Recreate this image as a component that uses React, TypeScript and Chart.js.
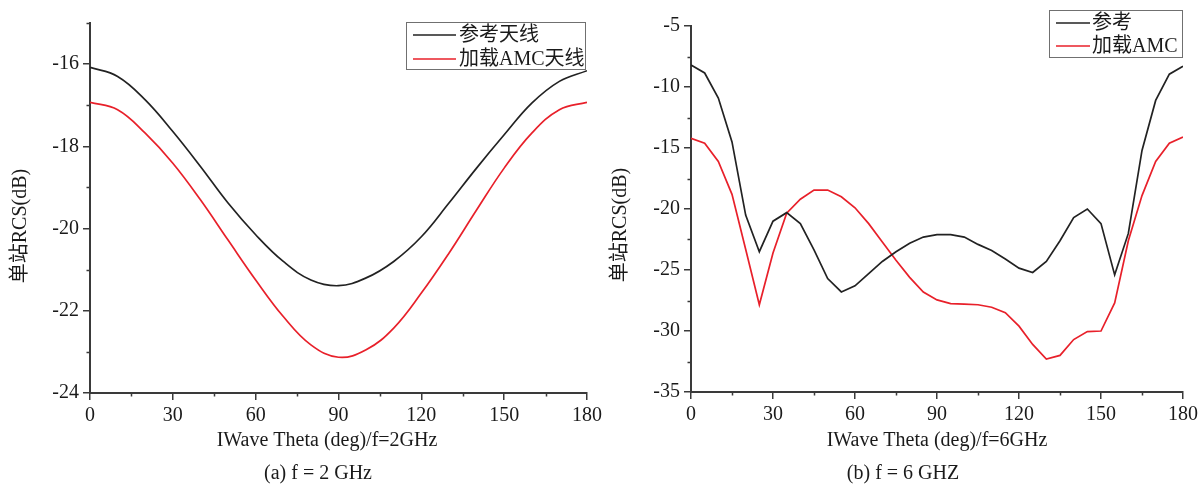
import React, { useEffect, useRef } from "react";
import { Chart, registerables } from "chart.js";

Chart.register(...registerables);

// ---------- data ----------
const ANGLES_2G = [0, 10, 20, 30, 40, 50, 60, 70, 80, 90, 100, 110, 120, 130, 140, 150, 160, 170, 180];
const REF_2G = [-16.08, -16.3, -16.87, -17.64, -18.49, -19.38, -20.15, -20.8, -21.25, -21.39, -21.2, -20.8, -20.2, -19.38, -18.53, -17.72, -16.95, -16.42, -16.16];
const AMC_2G = [-16.93, -17.11, -17.68, -18.41, -19.3, -20.28, -21.25, -22.14, -22.83, -23.13, -22.95, -22.42, -21.57, -20.6, -19.55, -18.53, -17.68, -17.11, -16.93];

const ANGLES_6G = [0, 5, 10, 15, 20, 25, 30, 35, 40, 45, 50, 55, 60, 65, 70, 75, 80, 85, 90, 95, 100, 105, 110, 115, 120, 125, 130, 135, 140, 145, 150, 155, 160, 165, 170, 175, 180];
const REF_6G = [-8.2, -8.85, -10.9, -14.5, -20.5, -23.5, -21.0, -20.3, -21.2, -23.35, -25.7, -26.8, -26.3, -25.3, -24.3, -23.5, -22.8, -22.3, -22.1, -22.1, -22.3, -22.9, -23.4, -24.1, -24.85, -25.2, -24.3, -22.6, -20.7, -20.0, -21.2, -25.4, -22.0, -15.2, -11.1, -8.95, -8.3];
const AMC_6G = [-14.2, -14.6, -16.1, -18.8, -23.3, -27.85, -23.6, -20.35, -19.2, -18.45, -18.45, -19.0, -19.9, -21.2, -22.7, -24.2, -25.6, -26.8, -27.45, -27.75, -27.8, -27.85, -28.05, -28.5, -29.6, -31.1, -32.3, -32.0, -30.7, -30.05, -30.0, -27.7, -22.6, -18.9, -16.1, -14.6, -14.1];

const X_MINOR = [15, 45, 75, 105, 135, 165];
const Y_MINOR_2G = [-23, -21, -19, -17, -15];
const Y_MINOR_6G = [-32.5, -27.5, -22.5, -17.5, -12.5, -7.5];

const LABELS_2G = ["参考天线", "加载AMC天线"];
const LABELS_6G = ["参考", "加载AMC"];
const X_TITLE_2G = "IWave Theta (deg)/f=2GHz";
const X_TITLE_6G = "IWave Theta (deg)/f=6GHz";
const Y_TITLE = "单站RCS(dB)";
const CAPTION_2G = "(a) f = 2 GHz";
const CAPTION_6G = "(b) f = 6 GHZ";

// ---------- style ----------
const W = 1203;
const H = 486;
const SERIF = "'Liberation Serif', 'Times New Roman', 'Noto Sans CJK SC', serif";
const TEXT = "#1a1a1a";
const AXIS = "#3a3a3a";
const BLACK = "#222222";
const RED = "#e8202a";
const MAJOR_TICK = 7;
const MINOR_TICK = 3.5;

type Extras = {
  yTitleX: number;
  yTitleY: number;
  xTitle: string;
  xTitleX: number;
  xTitleY: number;
  caption: string;
  capX: number;
  capY: number;
  box: { x: number; y: number; w: number; h: number };
  lineX1: number;
  lineX2: number;
  textX: number;
  row1: number;
  row2: number;
  xMinor: number[];
  yMinor: number[];
};

function makeExtras(e: Extras) {
  return {
    id: "extras",
    afterDraw(chart: any) {
      const ctx = chart.ctx as CanvasRenderingContext2D;
      const xs = chart.scales.x;
      const ys = chart.scales.y;
      ctx.save();
      // minor ticks
      ctx.strokeStyle = AXIS;
      ctx.lineWidth = 1.5;
      ctx.beginPath();
      e.xMinor.forEach((v) => {
        const px = Math.round(xs.getPixelForValue(v)) + 0.5;
        ctx.moveTo(px, xs.top);
        ctx.lineTo(px, xs.top + MINOR_TICK);
      });
      e.yMinor.forEach((v) => {
        const py = Math.round(ys.getPixelForValue(v)) + 0.5;
        ctx.moveTo(ys.right, py);
        ctx.lineTo(ys.right - MINOR_TICK, py);
      });
      ctx.stroke();

      ctx.fillStyle = TEXT;
      ctx.font = `20px ${SERIF}`;
      ctx.textBaseline = "middle";
      ctx.textAlign = "center";
      // x title
      ctx.fillText(e.xTitle, e.xTitleX, e.xTitleY);
      // caption
      ctx.fillText(e.caption, e.capX, e.capY);
      // y title
      ctx.save();
      ctx.translate(e.yTitleX, e.yTitleY);
      ctx.rotate(-Math.PI / 2);
      ctx.fillText(Y_TITLE, 0, 0);
      ctx.restore();
      // legend
      ctx.strokeStyle = "#707070";
      ctx.lineWidth = 1;
      ctx.strokeRect(e.box.x + 0.5, e.box.y + 0.5, e.box.w, e.box.h);
      ctx.textAlign = "left";
      const rows = [e.row1, e.row2];
      chart.data.datasets.forEach((ds: any, i: number) => {
        const y = rows[i];
        ctx.strokeStyle = ds.borderColor;
        ctx.lineWidth = 1.5;
        ctx.beginPath();
        ctx.moveTo(e.lineX1, y);
        ctx.lineTo(e.lineX2, y);
        ctx.stroke();
        ctx.fillStyle = TEXT;
        ctx.fillText(ds.label, e.textX, y + 1);
      });
      ctx.restore();
    },
  };
}

function axisCommon() {
  return {
    grid: {
      display: true,
      drawOnChartArea: false,
      drawTicks: true,
      tickLength: MAJOR_TICK,
      color: AXIS,
      tickColor: AXIS,
      lineWidth: 1.5,
    },
    border: { display: true, color: AXIS, width: 2 },
  };
}

function buildConfig(
  angles: number[],
  refs: number[],
  amcs: number[],
  labels: string[],
  yMin: number,
  yMax: number,
  yStep: number,
  tension: number,
  pad: { left: number; top: number; right: number },
  yWidth: number,
  xHeight: number,
  extras: Extras
): any {
  const refPts = angles.map((a, i) => ({ x: a, y: refs[i] }));
  const amcPts = angles.map((a, i) => ({ x: a, y: amcs[i] }));
  return {
    type: "line",
    data: {
      datasets: [
        {
          label: labels[0],
          data: refPts,
          borderColor: BLACK,
          borderWidth: 1.7,
          pointRadius: 0,
          tension,
          fill: false,
        },
        {
          label: labels[1],
          data: amcPts,
          borderColor: RED,
          borderWidth: 1.7,
          pointRadius: 0,
          tension,
          fill: false,
        },
      ],
    },
    options: {
      animation: false,
      responsive: false,
      maintainAspectRatio: false,
      devicePixelRatio: 1,
      layout: { padding: { left: pad.left, top: pad.top, right: pad.right, bottom: 0 } },
      plugins: { legend: { display: false }, tooltip: { enabled: false }, title: { display: false } },
      scales: {
        x: {
          type: "linear",
          position: "bottom",
          min: 0,
          max: 180,
          afterFit: (s: any) => {
            s.height = xHeight;
          },
          ticks: {
            stepSize: 30,
            includeBounds: false,
            autoSkip: false,
            maxRotation: 0,
            padding: 4,
            color: TEXT,
            font: { family: SERIF, size: 20 },
          },
          ...axisCommon(),
        },
        y: {
          type: "linear",
          position: "left",
          min: yMin,
          max: yMax,
          afterFit: (s: any) => {
            s.width = yWidth;
          },
          ticks: {
            stepSize: yStep,
            includeBounds: false,
            autoSkip: false,
            padding: 4,
            color: TEXT,
            font: { family: SERIF, size: 20 },
          },
          ...axisCommon(),
        },
      },
    },
    plugins: [makeExtras(extras)],
  };
}

export default function App() {
  const leftRef = useRef<HTMLCanvasElement | null>(null);
  const rightRef = useRef<HTMLCanvasElement | null>(null);

  useEffect(() => {
    const c1 = new Chart(
      leftRef.current as HTMLCanvasElement,
      buildConfig(
        ANGLES_2G,
        REF_2G,
        AMC_2G,
        LABELS_2G,
        -24,
        -15,
        2,
        0.4,
        { left: 0, top: 23, right: W - 587 },
        90,
        H - 393,
        {
          yTitleX: 21,
          yTitleY: 226,
          xTitle: X_TITLE_2G,
          xTitleX: 327,
          xTitleY: 441,
          caption: CAPTION_2G,
          capX: 318,
          capY: 474,
          box: { x: 406, y: 22, w: 179, h: 47 },
          lineX1: 413,
          lineX2: 456,
          textX: 459,
          row1: 35,
          row2: 59,
          xMinor: X_MINOR,
          yMinor: Y_MINOR_2G,
        }
      )
    );
    const c2 = new Chart(
      rightRef.current as HTMLCanvasElement,
      buildConfig(
        ANGLES_6G,
        REF_6G,
        AMC_6G,
        LABELS_6G,
        -35,
        -5,
        5,
        0,
        { left: 600, top: 26, right: W - 1183 },
        91,
        H - 392,
        {
          yTitleX: 621,
          yTitleY: 225,
          xTitle: X_TITLE_6G,
          xTitleX: 937,
          xTitleY: 441,
          caption: CAPTION_6G,
          capX: 903,
          capY: 474,
          box: { x: 1049, y: 10, w: 133, h: 47 },
          lineX1: 1056,
          lineX2: 1090,
          textX: 1092,
          row1: 23,
          row2: 46,
          xMinor: X_MINOR,
          yMinor: Y_MINOR_6G,
        }
      )
    );
    return () => {
      c1.destroy();
      c2.destroy();
    };
  }, []);

  const canvasStyle: React.CSSProperties = {
    position: "absolute",
    left: 0,
    top: 0,
    width: W,
    height: H,
  };

  return (
    <div
      style={{
        position: "fixed",
        left: 0,
        top: 0,
        width: W,
        height: H,
        background: "#ffffff",
        overflow: "hidden",
      }}
    >
      <canvas ref={leftRef} width={W} height={H} style={canvasStyle} />
      <canvas ref={rightRef} width={W} height={H} style={canvasStyle} />
    </div>
  );
}
